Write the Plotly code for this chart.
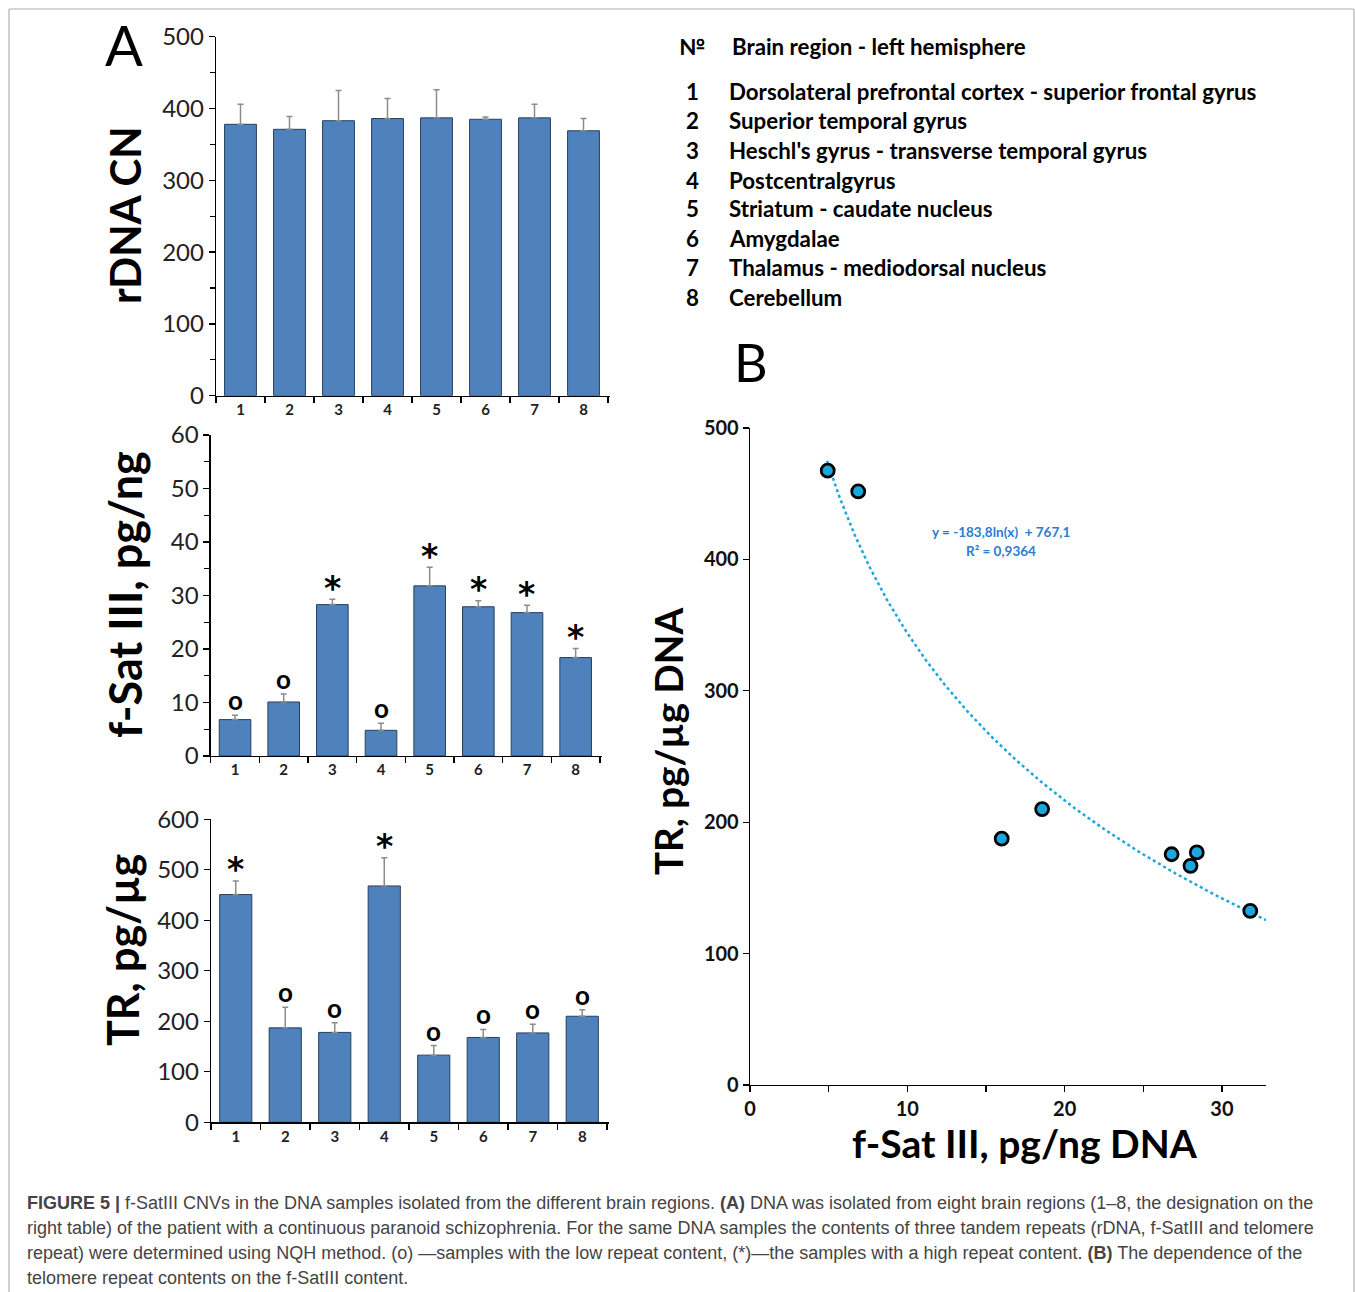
import plotly.graph_objects as go
import numpy as np

W, H = 1355, 1292

# ---------------- data ----------------
regions = ["1", "2", "3", "4", "5", "6", "7", "8"]
region_names = [
    "Dorsolateral prefrontal cortex - superior frontal gyrus",
    "Superior temporal gyrus",
    "Heschl's gyrus - transverse temporal gyrus",
    "Postcentralgyrus",
    "Striatum - caudate nucleus",
    "Amygdalae",
    "Thalamus - mediodorsal nucleus",
    "Cerebellum",
]

rdna = [378, 371, 383, 386, 387, 385, 387, 369]
rdna_err = [28, 18, 42, 28, 39, 3, 19, 17]

fsat = [6.8, 10.1, 28.3, 4.8, 31.8, 27.9, 26.8, 18.4]
fsat_err = [0.8, 1.5, 1.0, 1.3, 3.5, 1.1, 1.4, 1.7]
fsat_marks = ["o", "o", "*", "o", "*", "*", "*", "*"]

tr = [451, 187, 178, 468, 133, 168, 177, 210]
tr_err = [27, 41, 19, 56, 19, 16, 17, 13]
tr_marks = ["*", "o", "o", "*", "o", "o", "o", "o"]

scatter_x = [4.94, 6.88, 16.0, 18.57, 26.8, 28.0, 28.4, 31.8]
scatter_y = [467.5, 451.7, 187.5, 210, 175.6, 166.8, 177, 132.5]

fit_a, fit_b = -183.8, 767.1   # y = a ln(x) + b (from chart)
fit_x_range = [4.9, 32.8]

# ---------------- helpers ----------------
def px(x):
    return x / W


def py(y):
    return 1 - y / H


BAR_COLOR = "#4f81bd"
BAR_LINE = "#27405f"
ERR_COLOR = "#8c8c8c"
FONT = "Lato"

fig = go.Figure()


def add_bars(vals, errs, xa, ya):
    fig.add_trace(go.Bar(
        x=regions, y=vals, xaxis=xa, yaxis=ya,
        marker=dict(color=BAR_COLOR, line=dict(color=BAR_LINE, width=1)),
        error_y=dict(type="data", symmetric=False, array=errs,
                     arrayminus=[0] * len(errs), color=ERR_COLOR,
                     thickness=1.5, width=3),
        showlegend=False, hoverinfo="skip",
    ))


add_bars(rdna, rdna_err, "x", "y")
add_bars(fsat, fsat_err, "x2", "y2")
add_bars(tr, tr_err, "x3", "y3")

# scatter B: trend line first, markers on top
xs = np.linspace(fit_x_range[0], fit_x_range[1], 200)
fig.add_trace(go.Scatter(
    x=xs, y=fit_a * np.log(xs) + fit_b, xaxis="x4", yaxis="y4", mode="lines",
    line=dict(color="#1aa7e0", width=2.5, dash="dot"),
    showlegend=False, hoverinfo="skip",
))
fig.add_trace(go.Scatter(
    x=scatter_x, y=scatter_y, xaxis="x4", yaxis="y4", mode="markers",
    marker=dict(size=13, color="#1aa7e0", line=dict(color="black", width=2.8)),
    showlegend=False, hoverinfo="skip",
))

axis_common = dict(showline=True, linecolor="black", linewidth=1.3,
                   ticks="outside", tickcolor="black", ticklen=6, tickwidth=1.3,
                   showgrid=False, zeroline=False, fixedrange=True,
                   automargin=False)

xcat = dict(axis_common, type="category", tickson="boundaries",
            range=[-0.5, 7.55],
            tickfont=dict(family=FONT, size=15, color="#222"),
            tickprefix="<b>", ticksuffix="</b>")
ytick_font = dict(family=FONT, size=24, color="#222")

layout = dict(
    width=W, height=H,
    margin=dict(l=0, r=0, t=0, b=0, pad=0, autoexpand=False),
    paper_bgcolor="white", plot_bgcolor="rgba(0,0,0,0)",
    bargap=0.35, showlegend=False,
    xaxis=dict(xcat, domain=[px(216), px(216 + 8.05 * 49)], anchor="y"),
    yaxis=dict(axis_common, domain=[py(395.7), py(36.7)], range=[0, 500],
               dtick=100, tickfont=ytick_font, anchor="x",
               minor=dict(dtick=50, ticks="outside", ticklen=5, tickcolor="black")),
    xaxis2=dict(xcat, domain=[px(210.7), px(210.7 + 8.05 * 48.66)], anchor="y2"),
    yaxis2=dict(axis_common, domain=[py(756), py(435)], range=[0, 60],
                dtick=10, tickfont=ytick_font, anchor="x2",
                minor=dict(dtick=5, ticks="outside", ticklen=5, tickcolor="black")),
    xaxis3=dict(xcat, domain=[px(211), px(211 + 8.05 * 49.5)], anchor="y3"),
    yaxis3=dict(axis_common, domain=[py(1122.3), py(819.3)], range=[0, 600],
                dtick=100, tickfont=ytick_font, anchor="x3"),
    xaxis4=dict(axis_common, domain=[px(750), px(1266)], range=[0, 32.8],
                dtick=10, anchor="y4",
                tickfont=dict(family=FONT, size=20, color="#111"),
                tickprefix="<b>", ticksuffix="</b>",
                minor=dict(dtick=5, ticks="outside", ticklen=6, tickcolor="black")),
    yaxis4=dict(axis_common, domain=[py(1085), py(428)], range=[0, 500],
                dtick=100, anchor="x4",
                tickfont=dict(family=FONT, size=20, color="#111"),
                tickprefix="<b>", ticksuffix="</b>"),
)
fig.update_layout(**layout)

ann = []


def txt(x, y, s, size, bold=False, angle=0, xanchor="center", color="black",
        family=FONT):
    ann.append(dict(x=px(x), y=py(y), xref="paper", yref="paper",
                    text=("<b>%s</b>" % s) if bold else s, showarrow=False,
                    textangle=angle, xanchor=xanchor, yanchor="middle",
                    font=dict(family=family, size=size, color=color)))


# significance marks (x as category index)
def add_marks(vals, errs, marks, xa, ya):
    for i, (v, e, m) in enumerate(zip(vals, errs, marks)):
        if m == "o":
            font = dict(family=FONT, size=26, color="black")
            shift = 15
        else:
            font = dict(family="DejaVu Sans", size=33, color="black")
            shift = 11
        ann.append(dict(x=i, y=v + e, xref=xa, yref=ya, text="<b>%s</b>" % m,
                        showarrow=False, yanchor="middle", yshift=shift,
                        font=font))


add_marks(fsat, fsat_err, fsat_marks, "x2", "y2")
add_marks(tr, tr_err, tr_marks, "x3", "y3")

# axis titles
txt(125, 215, "rDNA CN", 42, bold=True, angle=-90)
txt(125, 595, "f-Sat III, pg/ng", 45, bold=True, angle=-90)
txt(122, 950, "TR, pg/µg", 43, bold=True, angle=-90)
txt(668, 742, "TR, pg/µg DNA", 38.5, bold=True, angle=-90)
txt(1025, 1143, "f-Sat III, pg/ng DNA", 39, bold=True)

# panel letters
txt(124, 45, "A", 56)
txt(751, 362, "B", 52)

# table
TS = 22.3
txt(692, 47, "№", TS, bold=True)
txt(730, 47, "Brain region - left hemisphere", TS, bold=True, xanchor="left")
row_y = [91, 121, 150, 180, 209, 238, 268, 297]
for r, name, yy in zip(regions, region_names, row_y):
    txt(693, yy, r, TS, bold=True)
    txt(727, yy, name, TS, bold=True, xanchor="left")

# equation
txt(1001, 532, "y = -183,8ln(x)  + 767,1", 13.5, bold=True, color="#2e7bd0")
txt(1001, 551, "R² = 0,9364", 13.5, bold=True, color="#2e7bd0")

# caption
cap = [
    "<b>FIGURE 5 |</b> f-SatIII CNVs in the DNA samples isolated from the different brain regions. <b>(A)</b> DNA was isolated from eight brain regions (1–8, the designation on the",
    "right table) of the patient with a continuous paranoid schizophrenia. For the same DNA samples the contents of three tandem repeats (rDNA, f-SatIII and telomere",
    "repeat) were determined using NQH method. (o) —samples with the low repeat content, (*)—the samples with a high repeat content. <b>(B)</b> The dependence of the",
    "telomere repeat contents on the f-SatIII content.",
]
for i, line in enumerate(cap):
    ann.append(dict(x=px(25), y=py(1203 + 25 * i), xref="paper", yref="paper",
                    text=line, showarrow=False, xanchor="left", yanchor="middle",
                    font=dict(family="Liberation Sans", size=18, color="#444")))

fig.update_layout(annotations=ann)

# frame
frame = dict(type="line", xref="paper", yref="paper",
             line=dict(color="#b0b0b0", width=1.2))
fig.update_layout(shapes=[
    dict(frame, x0=px(9), x1=px(1354), y0=py(9), y1=py(9)),
    dict(frame, x0=px(9), x1=px(9), y0=py(9), y1=py(1292)),
    dict(frame, x0=px(1354), x1=px(1354), y0=py(9), y1=py(1292)),
])

fig.write_html("out.html",
               config={"displayModeBar": False, "staticPlot": True},
               post_script="document.body.style.margin='0px';"
                           "document.body.style.overflow='hidden';")
